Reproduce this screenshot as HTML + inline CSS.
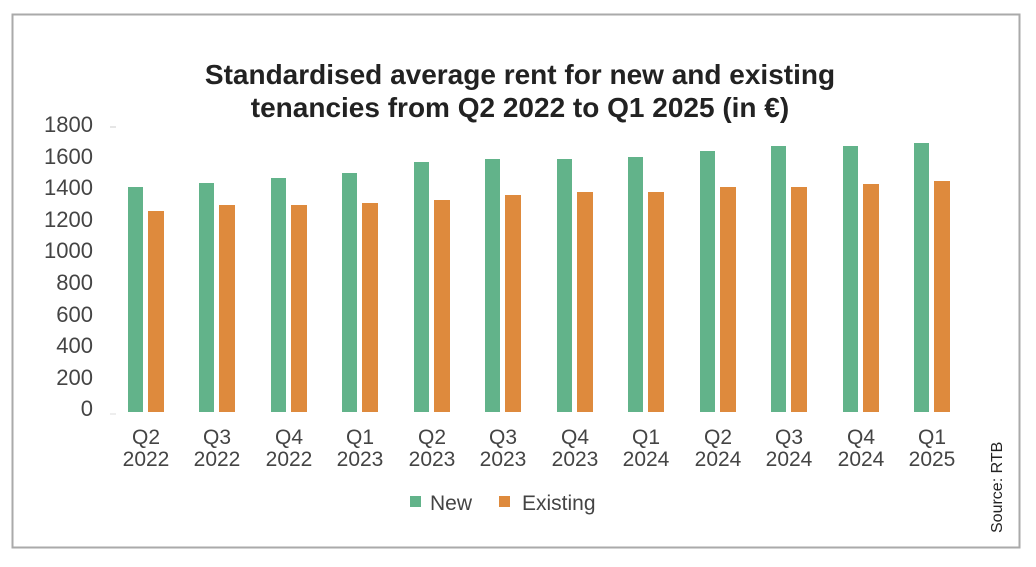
<!DOCTYPE html>
<html><head><style>body{margin:0;background:#fff}</style></head><body>
<svg width="1036" height="562" xmlns="http://www.w3.org/2000/svg" font-family="Liberation Sans, sans-serif">
<rect x="12.5" y="14.5" width="1007" height="533" fill="#fff" stroke="#aaa" stroke-width="2"/>
<text x="520" y="84" text-anchor="middle" font-size="28" font-weight="bold" fill="#222">Standardised average rent for new and existing</text>
<text x="520" y="117" text-anchor="middle" font-size="28" font-weight="bold" fill="#222">tenancies from Q2 2022 to Q1 2025 (in €)</text>
<g font-size="22" fill="#444" text-anchor="end">
<text x="93" y="132">1800</text><text x="93" y="164">1600</text><text x="93" y="195">1400</text><text x="93" y="227">1200</text><text x="93" y="258">1000</text><text x="93" y="290">800</text><text x="93" y="322">600</text><text x="93" y="353">400</text><text x="93" y="385">200</text><text x="93" y="416">0</text>
</g>
<line x1="110" y1="127" x2="116" y2="127" stroke="#ccc"/>
<line x1="110" y1="414" x2="116" y2="414" stroke="#ddd"/>
<g fill="#62b38a">
<rect x="128" y="187" width="15" height="225"/>
<rect x="199" y="183" width="15" height="229"/>
<rect x="271" y="178" width="15" height="234"/>
<rect x="342" y="173" width="15" height="239"/>
<rect x="414" y="162" width="15" height="250"/>
<rect x="485" y="159" width="15" height="253"/>
<rect x="557" y="159" width="15" height="253"/>
<rect x="628" y="157" width="15" height="255"/>
<rect x="700" y="151" width="15" height="261"/>
<rect x="771" y="146" width="15" height="266"/>
<rect x="843" y="146" width="15" height="266"/>
<rect x="914" y="143" width="15" height="269"/>
</g>
<g fill="#de8a3d">
<rect x="148" y="211" width="16" height="201"/>
<rect x="219" y="205" width="16" height="207"/>
<rect x="291" y="205" width="16" height="207"/>
<rect x="362" y="203" width="16" height="209"/>
<rect x="434" y="200" width="16" height="212"/>
<rect x="505" y="195" width="16" height="217"/>
<rect x="577" y="192" width="16" height="220"/>
<rect x="648" y="192" width="16" height="220"/>
<rect x="720" y="187" width="16" height="225"/>
<rect x="791" y="187" width="16" height="225"/>
<rect x="863" y="184" width="16" height="228"/>
<rect x="934" y="181" width="16" height="231"/>
</g>
<g font-size="21" fill="#444" text-anchor="middle">
<text x="146" y="444">Q2</text><text x="146" y="466">2022</text>
<text x="217" y="444">Q3</text><text x="217" y="466">2022</text>
<text x="289" y="444">Q4</text><text x="289" y="466">2022</text>
<text x="360" y="444">Q1</text><text x="360" y="466">2023</text>
<text x="432" y="444">Q2</text><text x="432" y="466">2023</text>
<text x="503" y="444">Q3</text><text x="503" y="466">2023</text>
<text x="575" y="444">Q4</text><text x="575" y="466">2023</text>
<text x="646" y="444">Q1</text><text x="646" y="466">2024</text>
<text x="718" y="444">Q2</text><text x="718" y="466">2024</text>
<text x="789" y="444">Q3</text><text x="789" y="466">2024</text>
<text x="861" y="444">Q4</text><text x="861" y="466">2024</text>
<text x="932" y="444">Q1</text><text x="932" y="466">2025</text>
</g>
<rect x="410" y="496" width="11" height="11" fill="#62b38a"/>
<text x="430" y="510" font-size="21" fill="#444">New</text>
<rect x="499" y="496" width="11" height="11" fill="#de8a3d"/>
<text x="522" y="510" font-size="21" fill="#444">Existing</text>
<text transform="translate(1002,533) rotate(-90)" font-size="16" fill="#222">Source: RTB</text>
</svg>
</body></html>
